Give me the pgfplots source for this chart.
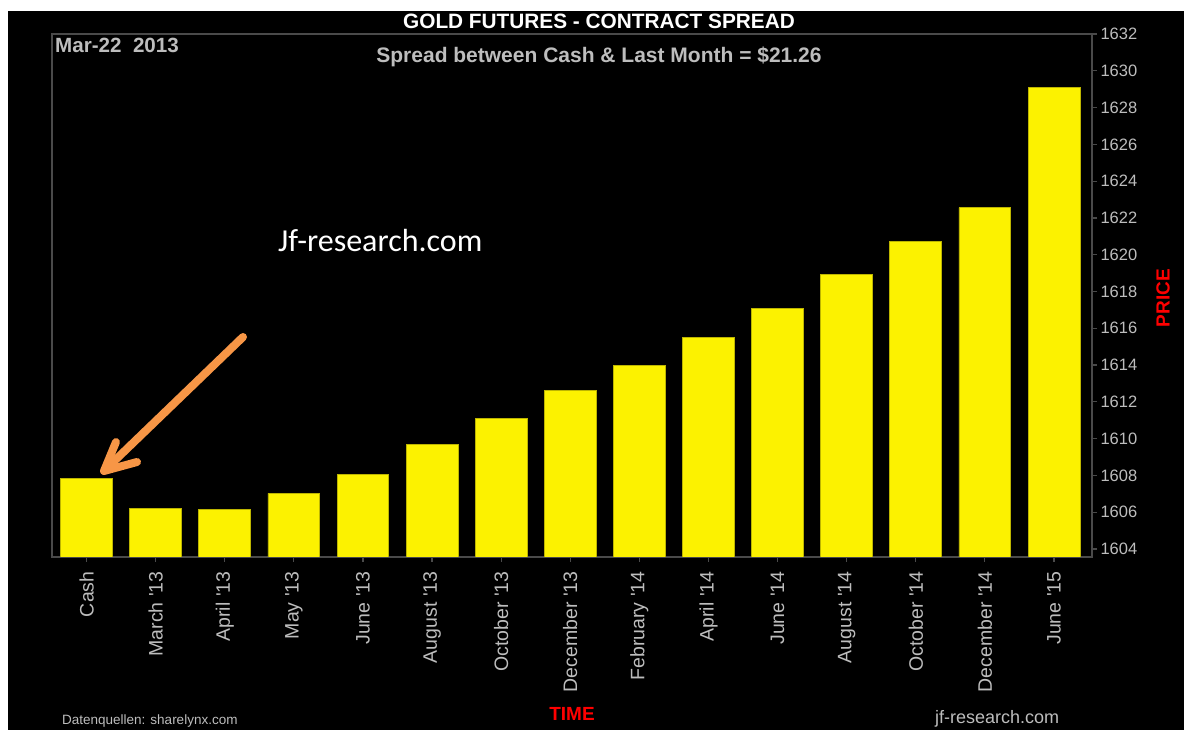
\documentclass[border=0pt]{standalone}
\usepackage{fontspec}
\setmainfont{Liberation Sans}
\newfontfamily\calibri{Carlito}
\usepackage{pgfplots}
\pgfplotsset{compat=1.18}
\definecolor{baryellow}{HTML}{FCF200}
\definecolor{txtgray}{HTML}{BDBDBD}
\definecolor{axgray}{HTML}{4A4A4A}
\definecolor{arroworange}{HTML}{F79646}
\begin{document}
\begin{tikzpicture}
\clip (0pt,0pt) rectangle (1184pt,730pt);
\fill[white] (0pt,0pt) rectangle (1184pt,730pt);
\fill[black] (8pt,0pt) rectangle (1184pt,719pt);
\begin{axis}[
  at={(52pt,173pt)}, anchor=south west,
  width=1040pt, height=523pt, scale only axis,
  xmin=-0.5, xmax=14.55, ymin=1603.566, ymax=1632,
  enlargelimits=false,
  ybar, bar width=0.75, bar shift=0pt,
  axis line style={axgray, line width=1.2pt},
  tick style={axgray, line width=1.2pt},
  tick align=outside, major tick length=5pt,
  xtick pos=bottom, ytick pos=right,
  ytick={1604,1606,...,1632},
  xtick={0,...,14},
  xticklabels={Cash, March \textquotesingle13, April \textquotesingle13, May \textquotesingle13, June \textquotesingle13, August \textquotesingle13, October \textquotesingle13, December \textquotesingle13, February \textquotesingle14, April \textquotesingle14, June \textquotesingle14, August \textquotesingle14, October \textquotesingle14, December \textquotesingle14, June \textquotesingle15},
  xticklabel shift=6pt,
  x tick label style={rotate=90, anchor=east, font=\fontsize{19.5}{19.5}\selectfont, color=txtgray},
  y tick label style={font=\fontsize{16.5}{16.5}\selectfont, color=txtgray, anchor=west},
  /pgf/number format/assume math mode=true,
  /pgf/number format/1000 sep={},
]
\addplot[fill=baryellow, draw=baryellow!75!black, line width=0.8pt] coordinates {
  (0,1607.82) (1,1606.19) (2,1606.13) (3,1607.02) (4,1608.07)
  (5,1609.70) (6,1611.10) (7,1612.63) (8,1614.00) (9,1615.50)
  (10,1617.08) (11,1618.92) (12,1620.71) (13,1622.56) (14,1629.08)
};
\end{axis}
\node[font=\bfseries\fontsize{20.8}{20.8}\selectfont, white] at (599pt,709pt) {GOLD FUTURES - CONTRACT SPREAD};
\node[font=\bfseries\fontsize{21}{21}\selectfont, txtgray] at (599pt,673pt) {Spread between Cash \& Last Month = \$21.26};
\node[font=\bfseries\fontsize{20.6}{20.6}\selectfont, txtgray, anchor=west, inner sep=0pt] at (55pt,685pt) {Mar-22\ \ 2013};
\node[font=\calibri\fontsize{32}{32}\selectfont, white, anchor=west, inner sep=0pt] at (278pt,489pt) {Jf-research.com};
\node[font=\bfseries\fontsize{19}{19}\selectfont, red] at (572pt,16pt) {TIME};
\node[font=\bfseries\fontsize{19}{19}\selectfont, red, rotate=90] at (1163pt,432pt) {PRICE};
\node[font=\fontsize{13.5}{13.5}\selectfont, txtgray, anchor=west, inner sep=0pt] at (62pt,9pt) {Datenquellen: sharelynx.com};
\node[font=\fontsize{18}{18}\selectfont, txtgray, anchor=west, inner sep=0pt] at (935pt,11pt) {jf-research.com};
\draw[arroworange, line width=8pt, line cap=round, line join=round] (243pt,393pt) -- (107pt,262pt);
\draw[arroworange, line width=8pt, line cap=round, line join=round] (116pt,288pt) -- (104pt,259pt) -- (137pt,268pt);
\end{tikzpicture}
\end{document}
